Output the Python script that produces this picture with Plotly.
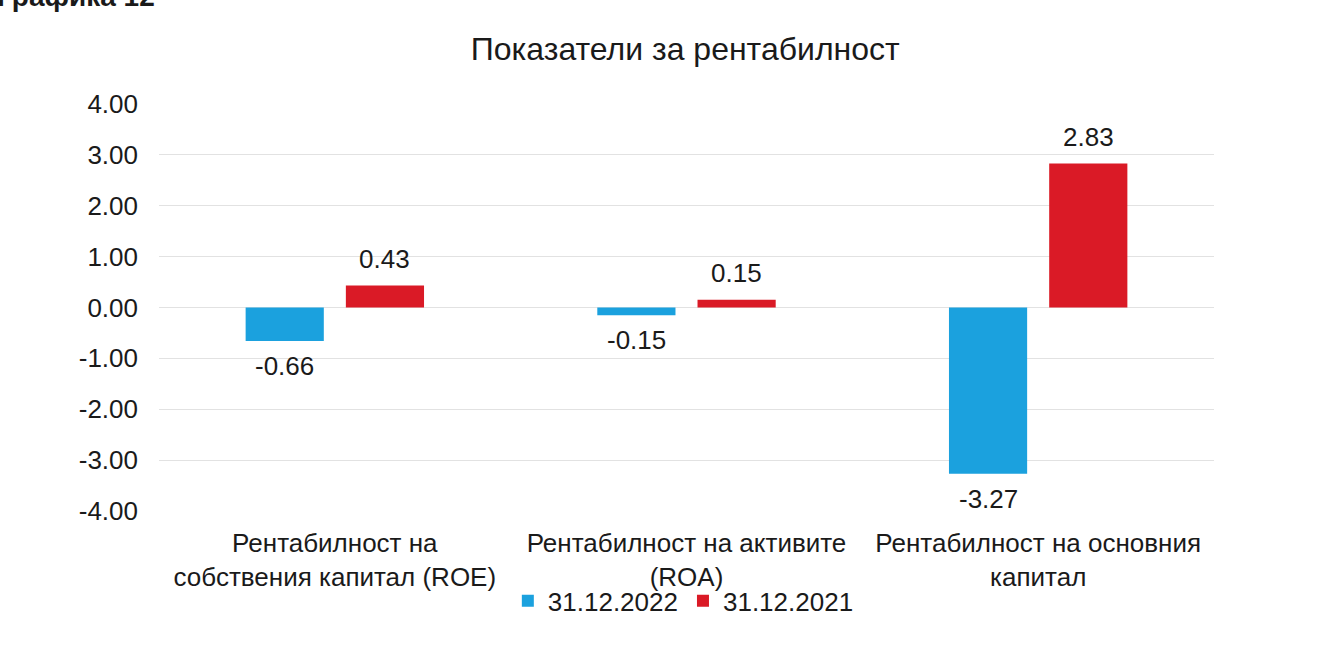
import plotly.graph_objects as go

categories = [
    "Рентабилност на<br>собствения капитал (ROE)",
    "Рентабилност на активите<br>(ROA)",
    "Рентабилност на основния<br>капитал",
]
series_names = ["31.12.2022", "31.12.2021"]
values_2022 = [-0.66, -0.15, -3.27]
values_2021 = [0.43, 0.15, 2.83]
tick_vals = [4, 3, 2, 1, 0, -1, -2, -3, -4]
tick_text = ["4.00", "3.00", "2.00", "1.00", "0.00", "-1.00", "-2.00", "-3.00", "-4.00"]

blue = "#1ba1de"
red = "#da1a26"
ink = "#1a1a1a"
font_family = "Liberation Sans, Arial, sans-serif"

fig = go.Figure()
series = [(series_names[0], values_2022, blue, -50),
          (series_names[1], values_2021, red, 50)]
for name, vals, color, _ in series:
    fig.add_trace(go.Bar(
        x=categories, y=vals, name=name,
        marker=dict(color=color, line=dict(width=0)),
        hoverinfo="x+y+name",
    ))

# value labels above positive bars and below negative bars
for name, vals, color, dx in series:
    for cat, v in zip(categories, vals):
        fig.add_annotation(
            x=cat, y=v, xref="x", yref="y",
            text=f"{v:.2f}",
            showarrow=False, xshift=dx,
            yanchor="bottom" if v >= 0 else "top",
            yshift=10 if v >= 0 else -8,
            font=dict(size=26, color=ink, family=font_family),
        )

fig.update_layout(
    width=1328, height=671,
    margin=dict(l=159, r=114, t=104, b=160),
    paper_bgcolor="white", plot_bgcolor="white",
    barmode="group", bargap=0.43, bargroupgap=0.22,
    font=dict(family=font_family, size=26, color=ink),
    title=dict(text="Показатели за рентабилност", x=0.516, xanchor="center",
               y=0.928, yanchor="middle",
               font=dict(size=32, color=ink, family=font_family)),
    showlegend=True,
    legend=dict(orientation="h", x=0.497, xanchor="center", y=-0.221, yanchor="middle",
                bgcolor="rgba(0,0,0,0)",
                font=dict(size=26, color=ink), itemwidth=30,
                traceorder="normal"),
    xaxis=dict(showline=False, ticks="", ticklabelstandoff=14,
               tickfont=dict(size=26, color=ink)),
    yaxis=dict(range=[-4, 4], tickvals=tick_vals, ticktext=tick_text,
               showgrid=True, gridcolor="#e2e2e2", gridwidth=1,
               zeroline=True, zerolinecolor="#e2e2e2", zerolinewidth=1,
               showline=False, ticks="", ticklabelstandoff=20,
               tickfont=dict(size=26, color=ink)),
)

fig.add_annotation(text="<b>Графика 12</b>", xref="paper", yref="paper",
                   x=-0.155, y=1.222, xanchor="left", yanchor="bottom",
                   showarrow=False, font=dict(size=28, color=ink))

fig.write_html("out.html")
